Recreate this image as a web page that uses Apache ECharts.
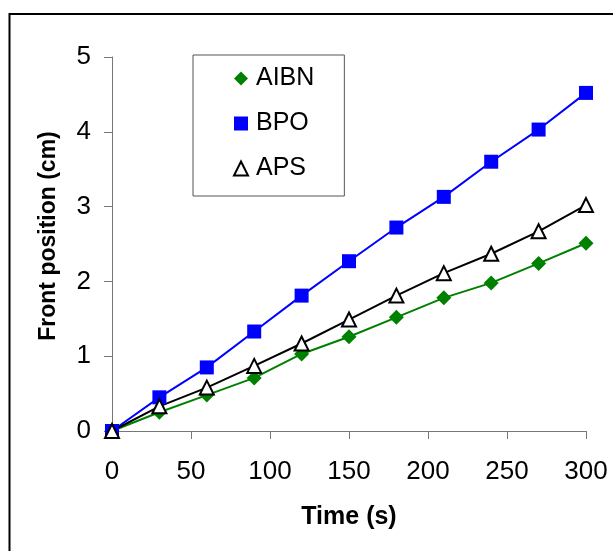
<!DOCTYPE html>
<html>
<head>
<meta charset="utf-8">
<script src="https://cdn.jsdelivr.net/npm/echarts@6/dist/echarts.min.js"></script>
<style>
  html, body { margin: 0; padding: 0; background: #fff; }
  #chart { width: 613px; height: 551px; }
</style>
</head>
<body>
<div id="chart"></div>
<script>
// Elapsed time (s) at which the front position was recorded
const timeS = [0, 30, 60, 90, 120, 150, 180, 210, 240, 270, 300];

// Front position (cm) for each initiator
const aibn = [0, 0.25, 0.48, 0.71, 1.03, 1.26, 1.52, 1.78, 1.98, 2.24, 2.51];
const bpo  = [0, 0.45, 0.85, 1.33, 1.81, 2.27, 2.72, 3.13, 3.60, 4.03, 4.52];
const aps  = [0, 0.33, 0.58, 0.87, 1.17, 1.49, 1.81, 2.11, 2.37, 2.67, 3.02];

const seriesNames = ['AIBN', 'BPO', 'APS'];

const pairs = (ys) => timeS.map((t, i) => [t, ys[i]]);

const FONT = '"Liberation Sans", Arial, sans-serif';
const axisGray = '#777777';

const chart = echarts.init(document.getElementById('chart'), null, { renderer: 'canvas' });

chart.setOption({
  animation: false,
  backgroundColor: '#ffffff',
  grid: { left: 112, right: 27, top: 57, bottom: 120, containLabel: false },
  graphic: [{
    type: 'rect',
    shape: { x: 9.5, y: 14, width: 700, height: 700 },
    style: { fill: 'none', stroke: '#000', lineWidth: 2 },
    silent: true
  }],
  legend: {
    orient: 'vertical',
    left: 193,
    top: 55,
    padding: [11, 30, 15, 40],
    borderColor: '#555',
    borderWidth: 1,
    itemWidth: 14,
    itemHeight: 14,
    itemGap: 20,
    textStyle: { fontFamily: FONT, fontSize: 25, color: '#000', padding: [0, 0, 0, 3] },
    data: [
      { name: seriesNames[0], icon: 'diamond', itemStyle: { color: '#008000' } },
      { name: seriesNames[1], icon: 'square', itemStyle: { color: '#0000ff' } },
      { name: seriesNames[2], icon: 'emptyTriangle', itemStyle: { color: '#000', borderColor: '#000', borderWidth: 2 } }
    ]
  },
  xAxis: {
    type: 'value',
    min: 0, max: 300, interval: 50,
    name: 'Time (s)',
    nameLocation: 'middle',
    nameGap: 74,
    nameTextStyle: { fontFamily: FONT, fontSize: 25, fontWeight: 'bold', color: '#000' },
    axisLine: { show: true, lineStyle: { color: axisGray, width: 1 } },
    axisTick: { show: true, inside: false, length: 8, lineStyle: { color: axisGray, width: 1 } },
    axisLabel: { fontFamily: FONT, fontSize: 26, color: '#000', margin: 28 },
    splitLine: { show: false }
  },
  yAxis: {
    type: 'value',
    min: 0, max: 5, interval: 1,
    name: 'Front position (cm)',
    nameLocation: 'middle',
    nameGap: 52,
    nameTextStyle: { fontFamily: FONT, fontSize: 23, fontWeight: 'bold', color: '#000', padding: [0, 0, 0, 16] },
    axisLine: { show: true, lineStyle: { color: axisGray, width: 1 } },
    axisTick: { show: true, inside: false, length: 8, lineStyle: { color: axisGray, width: 1 } },
    axisLabel: { fontFamily: FONT, fontSize: 26, color: '#000', margin: 21 },
    splitLine: { show: false }
  },
  series: [
    {
      name: seriesNames[0],
      type: 'line',
      data: pairs(aibn),
      symbol: 'diamond',
      symbolSize: 15,
      showAllSymbol: true,
      lineStyle: { color: '#008000', width: 2 },
      itemStyle: { color: '#008000' }
    },
    {
      name: seriesNames[1],
      type: 'line',
      data: pairs(bpo),
      symbol: 'rect',
      symbolSize: 14,
      showAllSymbol: true,
      lineStyle: { color: '#0000ff', width: 2 },
      itemStyle: { color: '#0000ff' }
    },
    {
      name: seriesNames[2],
      type: 'line',
      data: pairs(aps),
      symbol: 'emptyTriangle',
      symbolSize: 14,
      showAllSymbol: true,
      lineStyle: { color: '#000000', width: 2 },
      itemStyle: { color: '#000000', borderColor: '#000000', borderWidth: 2 }
    }
  ]
});
</script>
</body>
</html>
